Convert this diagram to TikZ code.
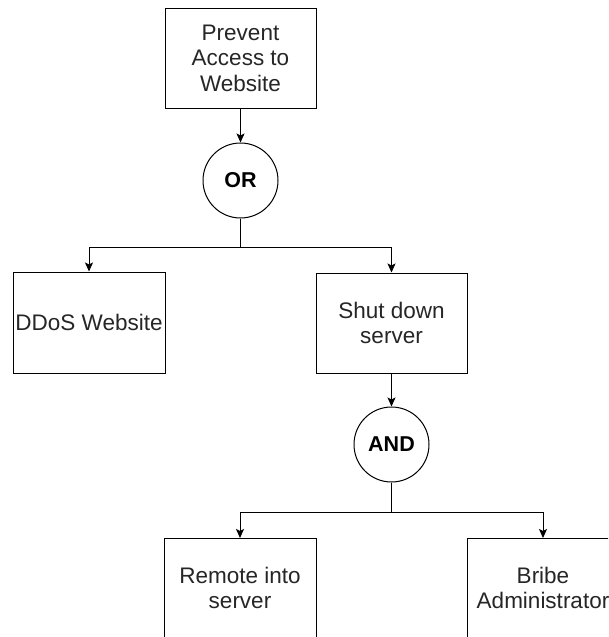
\documentclass[tikz,border=0pt]{standalone}
\usepackage{fontspec}
\setmainfont{Liberation Sans}
\usetikzlibrary{arrows.meta}
\begin{document}
\begin{tikzpicture}[x=1pt,y=-1pt,
  box/.style={draw=black, line width=1pt, minimum width=151pt, minimum height=100pt, inner sep=0pt, align=center,
    font=\fontsize{22.5}{25.5}\selectfont, text=black!85},
  gate/.style={draw=black, line width=1pt, circle, minimum size=75pt, inner sep=0pt,
    font=\fontsize{21.5}{25}\selectfont\bfseries},
  conn/.style={line width=1pt},
  arr/.style={line width=1pt, -{Stealth[length=9pt,width=8pt,inset=2pt]}}]
\useasboundingbox (0,0) rectangle (608,637);
\clip (0,0) rectangle (608,637);
\fill[white] (0,0) rectangle (608,637);
\node[box] (top) at (240.5,58) {Prevent\\Access to\\Website};
\node[gate] (or) at (240.5,180.5) {OR};
\node[box, minimum width=152pt, minimum height=101pt] (ddos) at (89,322.5) {DDoS Website};
\node[box] (shut) at (391.5,323) {Shut down\\server};
\node[gate] (and) at (391.5,444.5) {AND};
\node[box, minimum width=152pt, anchor=north] (remote) at (240,538) {\phantom{Remote into}};
\node[font=\fontsize{22.5}{25.5}\selectfont, text=black!85, align=center] (remotetext) at (240,588) {Remote into\\server};
\node[box, minimum width=152pt, anchor=north] (bribe) at (543,538) {\phantom{Remote into}};
\node[font=\fontsize{22.5}{25.5}\selectfont, text=black!85, align=center] (bribetext) at (543,588) {Bribe\\Administrator};
\coordinate (f1) at (240.5,247);
\coordinate (f2) at (391.5,512);
\draw[arr] (top) -- (or);
\draw[conn] (or) -- (f1);
\draw[arr] (f1) -| (ddos);
\draw[arr] (f1) -| (shut);
\draw[arr] (shut) -- (and);
\draw[conn] (and) -- (f2);
\draw[arr] (f2) -| (remote);
\draw[arr] (f2) -| (bribe);
\end{tikzpicture}
\end{document}
